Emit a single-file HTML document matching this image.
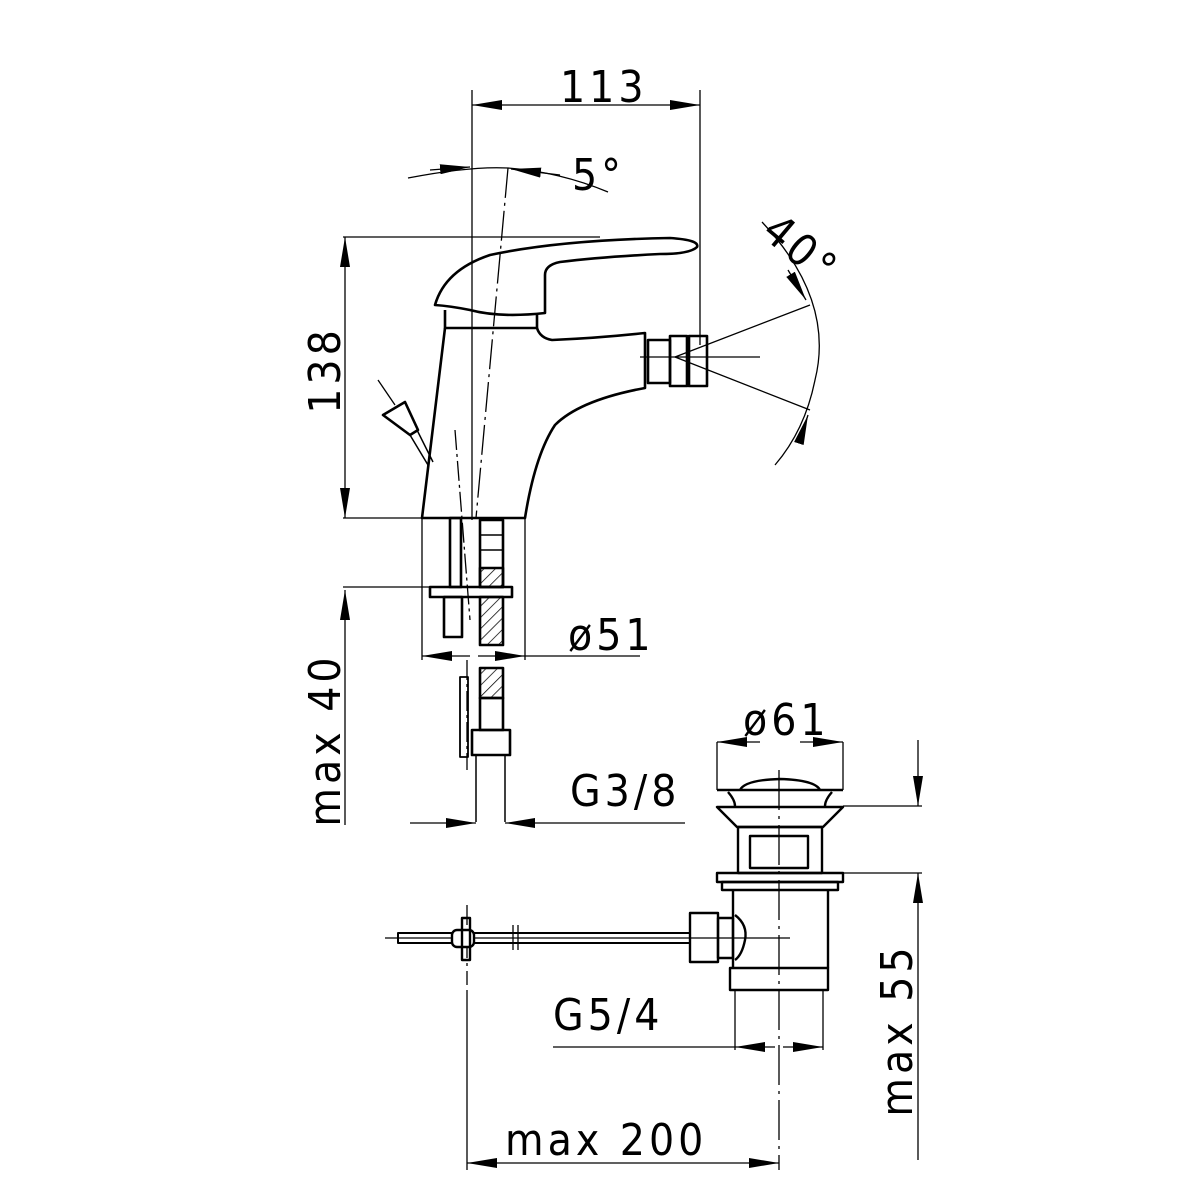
<!DOCTYPE html>
<html><head><meta charset="utf-8"><style>
html,body{margin:0;padding:0;background:#fff;}
svg{display:block}
text{font-family:"DejaVu Sans Condensed","Liberation Sans",sans-serif;font-size:44px;fill:#000;letter-spacing:4px;}
</style></head><body>
<svg width="1200" height="1200" viewBox="0 0 1200 1200" xmlns="http://www.w3.org/2000/svg">
<defs>
<marker id="a" viewBox="0 0 30 10" refX="30" refY="5" markerWidth="30" markerHeight="10" markerUnits="userSpaceOnUse" orient="auto"><path d="M0,0 L30,5 L0,10 Z" fill="#000"/></marker>
<pattern id="h" width="8" height="8" patternUnits="userSpaceOnUse" patternTransform="rotate(45)"><line x1="0" y1="0" x2="0" y2="8" stroke="#000" stroke-width="1.5"/></pattern>
</defs>
<g fill="none" stroke="#000" stroke-width="1.3">
<line x1="472" y1="90" x2="472" y2="520"/>
<line x1="700" y1="90" x2="700" y2="345"/>
<line x1="505" y1="105" x2="472" y2="105" marker-end="url(#a)"/>
<line x1="505" y1="105" x2="667" y2="105"/>
<line x1="667" y1="105" x2="700" y2="105" marker-end="url(#a)"/>
<path d="M408,178 Q470,166 508,168 Q560,172 608,192"/>
<line x1="430" y1="170" x2="470" y2="167" marker-end="url(#a)"/>
<line x1="560" y1="175" x2="511" y2="169" marker-end="url(#a)"/>
<line x1="508" y1="168" x2="476" y2="518" stroke-dasharray="30 5 3 5"/>
<line x1="343" y1="237" x2="600" y2="237"/>
<line x1="343" y1="518" x2="422" y2="518"/>
<line x1="345" y1="280" x2="345" y2="237" marker-end="url(#a)"/>
<line x1="345" y1="280" x2="345" y2="480"/>
<line x1="345" y1="480" x2="345" y2="518" marker-end="url(#a)"/>
<line x1="343" y1="587" x2="440" y2="587"/>
<line x1="345" y1="630" x2="345" y2="590" marker-end="url(#a)"/>
<line x1="345" y1="630" x2="345" y2="825"/>
<line x1="410" y1="823" x2="476" y2="823" marker-end="url(#a)"/>
<line x1="685" y1="823" x2="505" y2="823" marker-end="url(#a)"/>
<line x1="422" y1="518" x2="422" y2="660"/>
<line x1="525" y1="518" x2="525" y2="660"/>
<line x1="470" y1="656" x2="422" y2="656" marker-end="url(#a)"/>
<line x1="478" y1="656" x2="525" y2="656" marker-end="url(#a)"/>
<line x1="525" y1="656" x2="640" y2="656"/>
</g>
<g fill="none" stroke="#000" stroke-width="2.6" stroke-linejoin="round">
<path d="M435,305 Q445,270 490,255 Q560,240 670,238 Q700,240 697,247 Q690,254 660,254 Q600,257 560,262 Q545,265 545,275 L545,313 Q500,318 470,310 Q450,306 435,305 Z"/>
<path d="M445,310 L445,328 L537,328 L537,315"/>
<path d="M445,328 L422,518 L525,518 Q535,455 555,425 Q580,400 645,388 L645,333 Q600,338 552,340 Q540,338 537,328"/>
<rect x="648" y="340" width="22" height="43"/>
<rect x="670" y="336" width="17" height="50"/>
<rect x="689" y="336" width="18" height="50"/>
<path d="M383,415 L405,402 L418,430 L410,435 Z"/>
<line x1="410" y1="435" x2="428" y2="465" stroke-width="1.5"/>
<line x1="417" y1="430" x2="433" y2="462" stroke-width="1.5"/>
<rect x="450" y="518" width="11" height="69"/>
<rect x="430" y="587" width="82" height="10"/>
<rect x="444" y="597" width="18" height="40"/>
<rect x="480" y="520" width="23" height="67"/>
<line x1="480" y1="535" x2="503" y2="535" stroke-width="1.5"/>
<line x1="480" y1="550" x2="503" y2="550" stroke-width="1.5"/>
<rect x="480" y="597" width="23" height="48" fill="url(#h)"/>
<rect x="480" y="568" width="23" height="19" fill="url(#h)"/>
<rect x="480" y="668" width="23" height="30" fill="url(#h)"/>
<rect x="480" y="698" width="23" height="32"/>
<rect x="472" y="730" width="38" height="25"/>
<line x1="476" y1="755" x2="476" y2="822" stroke-width="1.5"/>
<line x1="505" y1="755" x2="505" y2="822" stroke-width="1.5"/>
<rect x="460" y="677" width="8" height="80" stroke-width="1.8"/>
</g>
<g fill="none" stroke="#000" stroke-width="1.3">
<line x1="455" y1="430" x2="470" y2="620" stroke-dasharray="20 4 3 4"/>
<line x1="467" y1="660" x2="467" y2="770" stroke-dasharray="20 4 3 4"/>
<line x1="378" y1="380" x2="395" y2="405"/>
<line x1="640" y1="357" x2="760" y2="357"/>
<line x1="675" y1="357" x2="810" y2="305"/>
<line x1="675" y1="357" x2="810" y2="410"/>
<path d="M762,222 Q835,300 815,380 Q805,430 775,465"/>
<line x1="788" y1="270" x2="806" y2="300" marker-end="url(#a)"/>
<line x1="800" y1="440" x2="808" y2="415" marker-end="url(#a)"/>
</g>
<g fill="none" stroke="#000" stroke-width="1.3">
<line x1="717" y1="742" x2="717" y2="790"/>
<line x1="843" y1="742" x2="843" y2="790"/>
<line x1="760" y1="742" x2="717" y2="742" marker-end="url(#a)"/>
<line x1="800" y1="742" x2="843" y2="742" marker-end="url(#a)"/>
<line x1="843" y1="806" x2="922" y2="806"/>
<line x1="843" y1="873" x2="922" y2="873"/>
<line x1="918" y1="740" x2="918" y2="806" marker-end="url(#a)"/>
<line x1="918" y1="920" x2="918" y2="873" marker-end="url(#a)"/>
<line x1="918" y1="920" x2="918" y2="1160"/>
<line x1="779" y1="770" x2="779" y2="1170" stroke-dasharray="40 6 3 6"/>
<line x1="735" y1="990" x2="735" y2="1050"/>
<line x1="823" y1="990" x2="823" y2="1050"/>
<line x1="553" y1="1047" x2="735" y2="1047"/>
<line x1="775" y1="1047" x2="735" y2="1047" marker-end="url(#a)"/>
<line x1="783" y1="1047" x2="823" y2="1047" marker-end="url(#a)"/>
<line x1="467" y1="990" x2="467" y2="1170"/>
<line x1="510" y1="1163" x2="467" y2="1163" marker-end="url(#a)"/>
<line x1="740" y1="1163" x2="779" y2="1163" marker-end="url(#a)"/>
<line x1="510" y1="1163" x2="740" y2="1163"/>
<line x1="385" y1="938" x2="790" y2="938"/>
<line x1="467" y1="905" x2="467" y2="985" stroke-dasharray="20 5 3 5"/>
</g>
<g fill="none" stroke="#000" stroke-width="2.4" stroke-linejoin="round">
<path d="M740,790 Q745,780 780,779 Q815,780 820,790"/>
<line x1="717" y1="790" x2="843" y2="790"/>
<path d="M728,792 Q735,800 735,806 M832,792 Q825,800 825,806"/>
<path d="M717,807 L843,807 L823,827 L737,827 Z"/>
<rect x="738" y="827" width="84" height="46"/>
<rect x="750" y="836" width="58" height="32"/>
<rect x="717" y="873" width="126" height="9"/>
<rect x="722" y="882" width="116" height="8"/>
<path d="M733,890 L733,968 M828,890 L828,968"/>
<rect x="730" y="968" width="98" height="22"/>
<path d="M735,915 Q748,925 745,940 Q742,955 735,960"/>
<rect x="690" y="913" width="28" height="49"/>
<rect x="718" y="918" width="15" height="40"/>
<rect x="398" y="933" width="292" height="10" stroke-width="2"/>
<rect x="452" y="930" width="22" height="17" rx="5" fill="#fff"/>
<rect x="462" y="918" width="8" height="42"/>
<line x1="513" y1="925" x2="513" y2="950" stroke-width="1.3"/>
<line x1="518" y1="925" x2="518" y2="950" stroke-width="1.3"/>
</g>
<text x="560" y="102">113</text>
<text x="572" y="190">5°</text>
<text x="568" y="650">ø51</text>
<text x="570" y="806">G3/8</text>
<text x="743" y="735">ø61</text>
<text x="553" y="1030">G5/4</text>
<text x="505" y="1155">max 200</text>
<text transform="translate(340,370) rotate(-90)" text-anchor="middle">138</text>
<text transform="translate(340,740) rotate(-90)" text-anchor="middle">max 40</text>
<text transform="translate(912,1030) rotate(-90)" text-anchor="middle">max 55</text>
<text transform="translate(760,235) rotate(40)">40°</text>
</svg>
</body></html>
